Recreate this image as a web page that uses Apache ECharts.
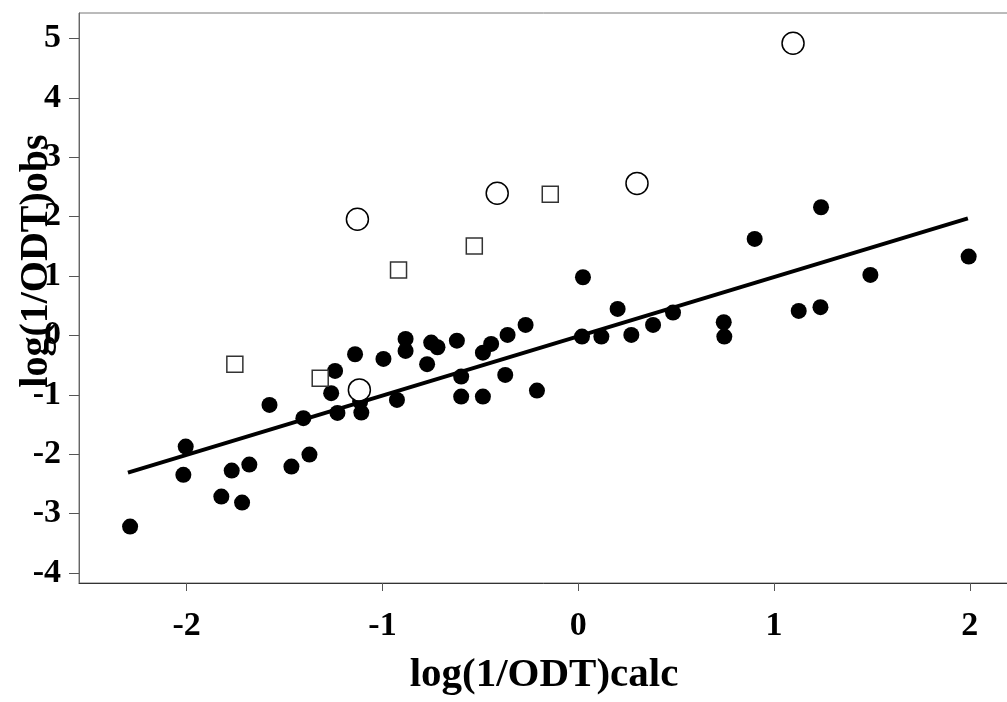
<!DOCTYPE html>
<html>
<head>
<meta charset="utf-8">
<script src="https://cdn.jsdelivr.net/npm/echarts@6/dist/echarts.min.js"></script>
<style>html,body{margin:0;padding:0;background:#fff;}#c{width:1007px;height:702px;}</style>
</head>
<body>
<div id="c"></div>
<script>
// Filled circles (training set)
const trainX = [-2.289,-2.005,-2.017,-1.823,-1.770,-1.717,-1.680,-1.577,-1.465,-1.404,-1.373,-1.242,-1.262,-1.230,-1.140,-1.114,-1.108,-0.995,-0.926,-0.882,-0.882,-0.772,-0.751,-0.719,-0.620,-0.598,-0.598,-0.487,-0.487,-0.445,-0.373,-0.361,-0.269,-0.211,0.024,0.019,0.118,0.201,0.271,0.382,0.484,0.743,0.746,0.901,1.126,1.237,1.240,1.492,1.994];
const trainY = [-3.219,-1.872,-2.348,-2.714,-2.276,-2.815,-2.175,-1.170,-2.209,-1.394,-2.007,-0.598,-0.973,-1.305,-0.317,-1.114,-1.300,-0.396,-1.086,-0.059,-0.261,-0.485,-0.121,-0.199,-0.088,-0.694,-1.030,-1.030,-0.290,-0.143,-0.665,0.008,0.177,-0.929,0.980,-0.020,-0.020,0.446,0.008,0.177,0.384,0.222,-0.020,1.625,0.412,0.475,2.158,1.018,1.327];
// Open circles
const circX = [-1.128,-0.414,0.300,-1.118,1.097];
const circY = [1.956,2.394,2.560,-0.918,4.920];
// Open squares
const sqX = [-0.143,-0.531,-0.918,-1.318,-1.754];
const sqY = [2.377,1.507,1.103,-0.720,-0.485];
// Regression line end points
const lineX = [-2.30, 1.99];
const lineY = [-2.31, 1.97];
// Ticks
const xTicks = [-2,-1,0,1,2];
const yTicks = [-4,-3,-2,-1,0,1,2,3,4,5];

const zip = (a,b) => a.map((v,i)=>[v,b[i]]);
const font = '"Liberation Serif", "Times New Roman", serif';

const chart = echarts.init(document.getElementById('c'), null, {renderer:'canvas'});
chart.setOption({
  animation: false,
  backgroundColor: '#fff',
  grid: {left: 79, right: -2, top: 13, bottom: 119, show: true, borderColor: '#777', borderWidth: 1, containLabel: false, outerBoundsMode: 'none'},
  xAxis: {
    type: 'value', min: -2.55, max: 2.20,
    name: 'log(1/ODT)calc', nameLocation: 'middle', nameGap: 72, nameMoveOverlap: false,
    nameTextStyle: {fontFamily: font, fontWeight: 'bold', fontSize: 41, color: '#000'},
    axisLine: {show: true, onZero: false, lineStyle: {color: '#333', width: 1}},
    axisTick: {show: true, length: 8, lineStyle: {color: '#555'}, customValues: xTicks},
    axisLabel: {fontFamily: font, fontWeight: 'bold', fontSize: 34, color: '#000', margin: 26, customValues: xTicks},
    splitLine: {show: false}
  },
  yAxis: {
    type: 'value', min: -4.17, max: 5.43,
    name: 'log(1/ODT)obs', nameLocation: 'middle', nameGap: 22, nameRotate: 90, nameMoveOverlap: false,
    nameTextStyle: {fontFamily: font, fontWeight: 'bold', fontSize: 40, color: '#000', padding: [0,0,0,74]},
    axisLine: {show: true, onZero: false, lineStyle: {color: '#666', width: 1}},
    axisTick: {show: true, length: 10, lineStyle: {color: '#555'}, customValues: yTicks},
    axisLabel: {fontFamily: font, fontWeight: 'bold', fontSize: 34, color: '#000', margin: 18, customValues: yTicks},
    splitLine: {show: false}
  },
  series: [
    {type: 'scatter', data: zip(trainX, trainY), symbol: 'circle', symbolSize: 16, itemStyle: {color: '#000', opacity: 1}, z: 2},
    {type: 'scatter', data: zip(circX, circY), symbol: 'circle', symbolSize: 22, itemStyle: {color: '#fff', borderColor: '#000', borderWidth: 1.5, opacity: 1}, z: 2},
    {type: 'scatter', data: zip(sqX, sqY), symbol: 'rect', symbolSize: 16, itemStyle: {color: '#fff', borderColor: '#333', borderWidth: 1.5, opacity: 1}, z: 2},
    {type: 'line', data: zip(lineX, lineY), showSymbol: false, symbol: 'none', lineStyle: {color: '#000', width: 4}, z: 3}
  ]
});
</script>
</body>
</html>
